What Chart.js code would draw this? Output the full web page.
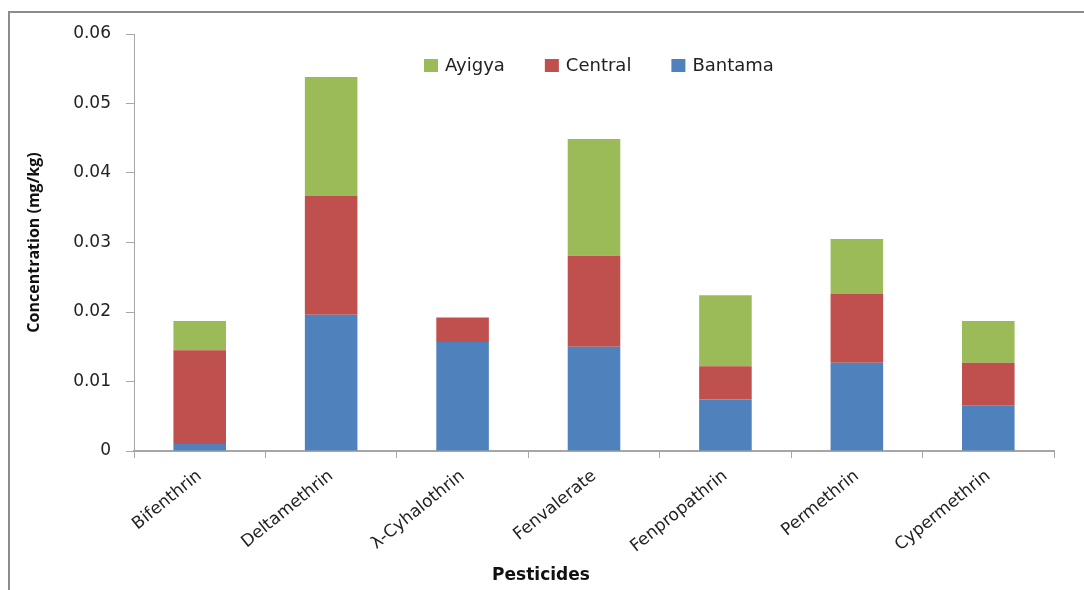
<!DOCTYPE html>
<html>
<head>
<meta charset="utf-8">
<script src="https://cdn.jsdelivr.net/npm/chart.js@4.4.1/dist/chart.umd.min.js"></script>
<style>
  body { margin: 0; background: #fff; }
  #wrap { position: relative; width: 1084px; height: 590px; }
  #frame { position: absolute; left: 8px; top: 11px; width: 1100px; height: 600px; border-left: 2px solid #8c8c8c; border-top: 2px solid #8c8c8c; }
</style>
</head>
<body>
<div id="wrap">
  <div id="frame"></div>
  <canvas id="grafica"></canvas>
</div>
<script>
const pesticidas = ['Bifenthrin', 'Deltamethrin', 'λ-Cyhalothrin', 'Fenvalerate', 'Fenpropathrin', 'Permethrin', 'Cypermethrin']

const bantama = [0.0010, 0.0196, 0.0157, 0.0150, 0.0074, 0.0127, 0.0065]
const central = [0.0135, 0.0171, 0.0035, 0.0131, 0.0048, 0.0099, 0.0062]
const ayigya = [0.0042, 0.0171, 0, 0.0168, 0.0102, 0.0079, 0.0060]

const fuente = "'DejaVu Sans', sans-serif"

// Leyenda dentro del area del grafico y titulo del eje X (como en Excel)
const extras = {
    id: 'extras',
    afterDraw(chart) {
        const ctx = chart.ctx
        const items = chart.data.datasets.slice().reverse()
        ctx.save()
        ctx.font = `18px ${fuente}`
        ctx.textBaseline = 'middle'
        let x = 424
        const y = 66
        items.forEach(ds => {
            ctx.fillStyle = ds.backgroundColor
            ctx.fillRect(x, y - 7, 14, 13)
            ctx.fillStyle = '#222'
            ctx.fillText(ds.label, x + 21, y)
            x += 21 + ctx.measureText(ds.label).width + 40
        })

        ctx.font = `bold 17px ${fuente}`
        ctx.textAlign = 'center'
        ctx.fillStyle = '#111'
        ctx.fillText('Pesticides', 541, 576)
        ctx.restore()
    }
}

new Chart(document.getElementById('grafica'), {
    type: 'bar',
    data: {
        labels: pesticidas,
        datasets: [
            { label: 'Bantama', data: bantama, backgroundColor: '#4F81BD' },
            { label: 'Central', data: central, backgroundColor: '#C0504D' },
            { label: 'Ayigya', data: ayigya, backgroundColor: '#9BBB59' }
        ]
    },
    options: {
        responsive: true,
        maintainAspectRatio: false,
        animation: false,
        layout: { padding: { left: 20, right: 30, top: 34, bottom: 0 } },
        datasets: { bar: { categoryPercentage: 0.8, barPercentage: 0.5 } },
        plugins: {
            legend: { display: false },
            tooltip: { enabled: false }
        },
        scales: {
            x: {
                stacked: true,
                afterFit: s => { s.height = 139 },
                grid: { drawOnChartArea: false, color: '#a6a6a6', tickLength: 7, lineWidth: 1 },
                border: { color: '#a6a6a6', width: 2 },
                ticks: {
                    color: '#222',
                    font: { family: fuente, size: 17 },
                    maxRotation: 39,
                    minRotation: 39,
                    padding: 8
                }
            },
            y: {
                stacked: true,
                min: 0,
                max: 0.06,
                afterFit: s => { s.width = 114 },
                grid: { drawOnChartArea: false, color: '#a6a6a6', tickLength: 8 },
                border: { color: '#a6a6a6', width: 1 },
                ticks: {
                    stepSize: 0.01,
                    color: '#222',
                    padding: 15,
                    font: { family: fuente, size: 17 },
                    callback: v => v === 0 ? '0' : v.toFixed(2)
                },
                title: {
                    display: true,
                    text: 'Concentration (mg/kg)',
                    color: '#111',
                    font: { family: "'Open Sans', sans-serif", size: 16, weight: 'bold' },
                    padding: { top: 5, bottom: 0 }
                }
            }
        }
    },
    plugins: [extras]
})
</script>
</body>
</html>
